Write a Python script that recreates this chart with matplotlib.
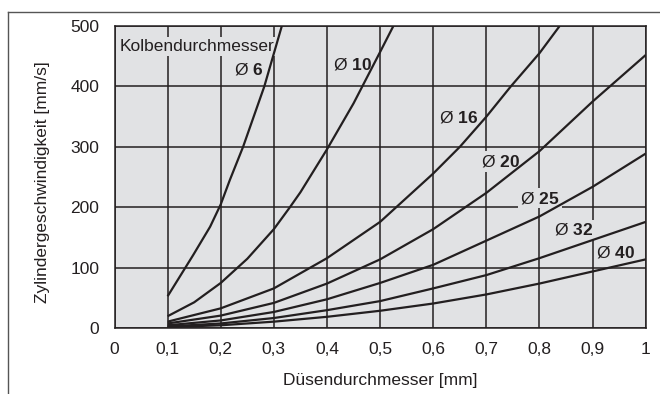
import matplotlib
matplotlib.use("Agg")
import matplotlib.pyplot as plt
from matplotlib.lines import Line2D

plt.rcParams['font.family'] = ['Liberation Sans', 'DejaVu Sans']
plt.rcParams['mathtext.fontset'] = 'custom'
plt.rcParams['mathtext.rm'] = 'Liberation Sans'
plt.rcParams['mathtext.bf'] = 'Liberation Sans:bold'

# Data: nozzle diameter [mm] -> cylinder speed [mm/s]
d6_x = [0.1, 0.148, 0.18, 0.2, 0.217, 0.242, 0.282, 0.315]
d6_y = [53, 121, 168, 205, 245, 300, 400, 500]

d10_x = [0.1, 0.15, 0.2, 0.25, 0.3, 0.33, 0.35, 0.4, 0.45, 0.5, 0.525]
d10_y = [20, 43, 75, 115, 164, 200, 225, 296, 372, 457, 500]

d16_x = [0.1, 0.2, 0.3, 0.4, 0.5, 0.6, 0.65, 0.7, 0.746, 0.8, 0.838]
d16_y = [11, 33, 66, 116, 176, 256, 300, 350, 400, 455, 500]

nozzle = [0.1, 0.2, 0.3, 0.4, 0.5, 0.6, 0.7, 0.8, 0.9, 1.0]
d20_y = [8, 21, 42, 74, 114, 164, 224, 293, 375, 452]
d25_y = [5, 13, 27, 48, 75, 105, 145, 185, 234, 289]
d32_y = [3, 8, 17, 30, 45, 66, 88, 116, 146, 176]
d40_y = [2, 5, 11, 19, 29, 41, 56, 74, 94, 114]

labels = ['6', '10', '16', '20', '25', '32', '40']
label_x = [0.28, 0.484, 0.684, 0.763, 0.838, 0.9, 0.98]
label_y = [428, 437, 349, 276, 215, 163, 126]

x_ticks = [0, 0.1, 0.2, 0.3, 0.4, 0.5, 0.6, 0.7, 0.8, 0.9, 1]
x_tick_labels = ['0', '0,1', '0,2', '0,3', '0,4', '0,5', '0,6', '0,7', '0,8', '0,9', '1']
y_ticks = [0, 100, 200, 300, 400, 500]

dark = '#231f20'
bg = '#e1e2e4'

fig = plt.figure(figsize=(6.6, 3.94), dpi=100)
ax = fig.add_axes([114.5 / 660, 1 - 328.3 / 394, 531.2 / 660, 302.3 / 394])
ax.set_facecolor(bg)

for xs, ys in [(d6_x, d6_y), (d10_x, d10_y), (d16_x, d16_y),
               (nozzle, d20_y), (nozzle, d25_y), (nozzle, d32_y), (nozzle, d40_y)]:
    ax.plot(xs, ys, color=dark, lw=1.6, zorder=3, solid_capstyle='butt')

ax.set_xlim(0, 1)
ax.set_ylim(0, 500)
ax.set_xticks(x_ticks)
ax.set_xticklabels(x_tick_labels)
ax.set_yticks(y_ticks)
ax.tick_params(length=0, labelsize=12.5, colors=dark)
ax.tick_params(axis='x', pad=10)
ax.tick_params(axis='y', pad=11)
ax.grid(True, color=dark, lw=1.1, zorder=1)
ax.set_axisbelow(True)
for s in ax.spines.values():
    s.set_color(dark)
    s.set_linewidth(1.1)

box = dict(facecolor=bg, edgecolor='none', pad=1.5)
ax.text(0.01, 466, 'Kolbendurchmesser', fontsize=12.5, color=dark,
        ha='left', va='center', bbox=box, zorder=2.5)
for lab, lx, ly in zip(labels, label_x, label_y):
    ax.text(lx, ly, 'Ø $\\mathbf{' + lab + '}$', fontsize=12.5, color=dark,
            ha='right', va='center', bbox=box, zorder=2.5)

fig.text(380 / 660, 1 - 381 / 394, 'Düsendurchmesser [mm]', fontsize=12.5,
         color=dark, ha='center', va='center')
fig.text(43 / 660, 1 - 182 / 394, 'Zylindergeschwindigkeit [mm/s]', fontsize=12.5,
         color=dark, ha='center', va='center', rotation=90)

# outer frame (left and top edge)
fig.add_artist(Line2D([7.5 / 660, 7.5 / 660], [0, 1 - 12 / 394],
                      transform=fig.transFigure, color='#555555', lw=1))
fig.add_artist(Line2D([7.5 / 660, 1], [1 - 12 / 394, 1 - 12 / 394],
                      transform=fig.transFigure, color='#555555', lw=1))

fig.savefig('out.png', dpi=100)
